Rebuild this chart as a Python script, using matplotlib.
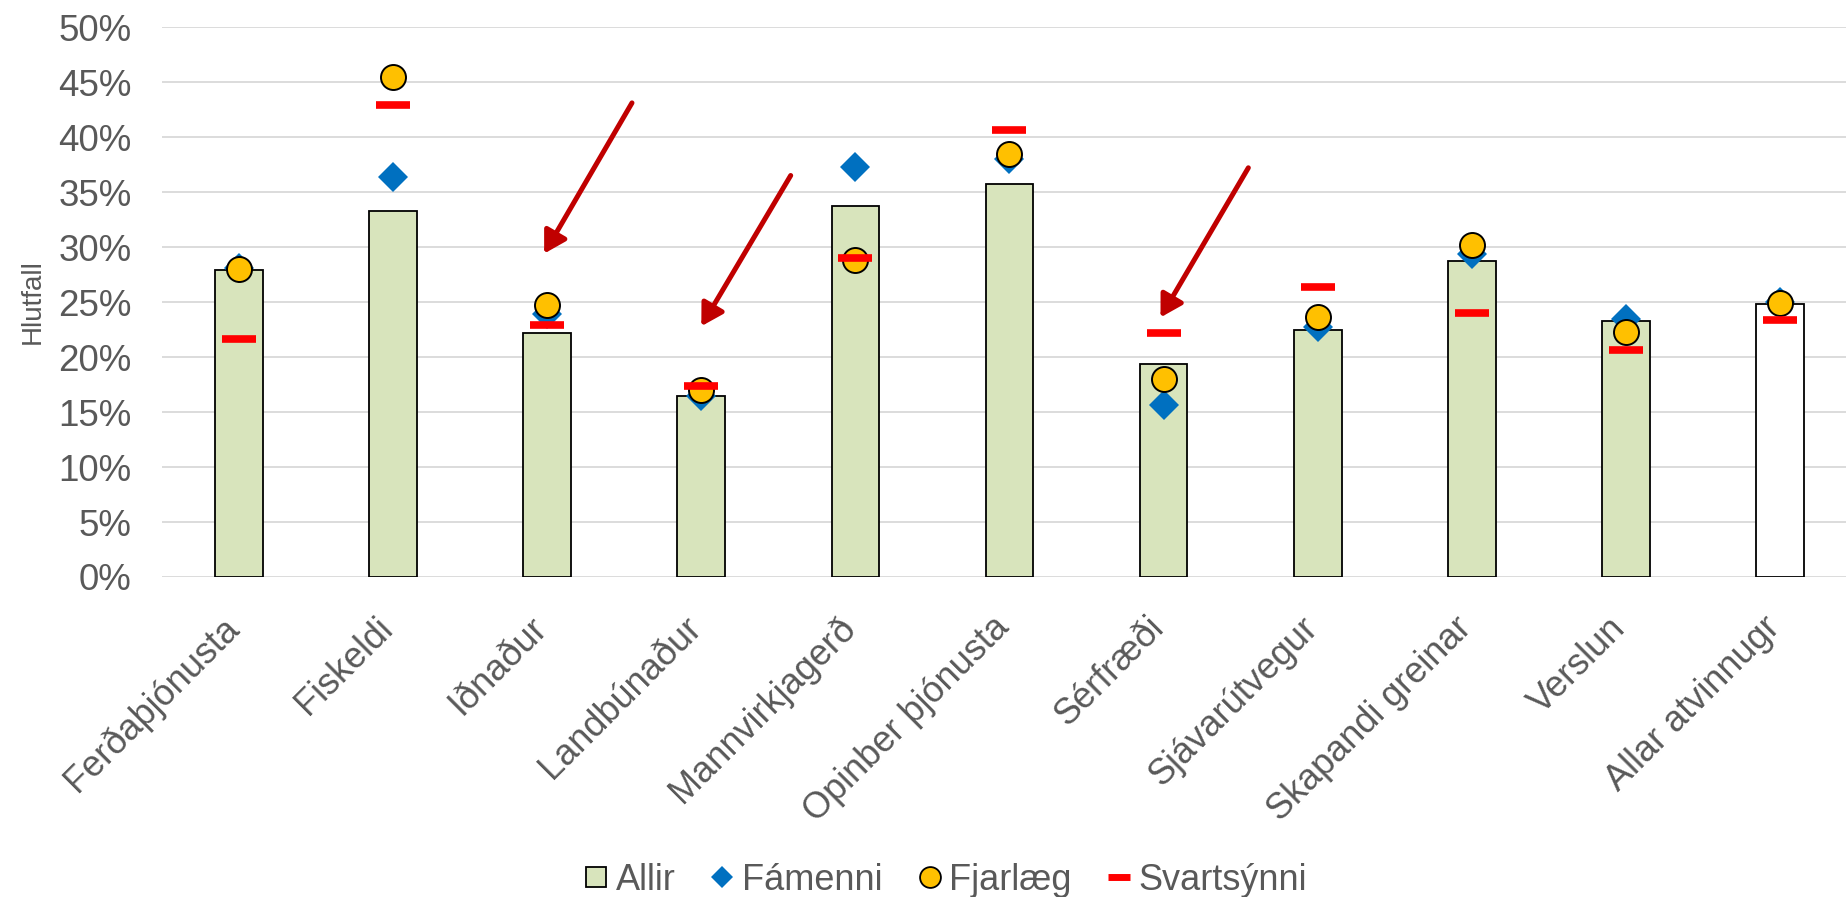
import matplotlib
matplotlib.use("Agg")
import matplotlib.pyplot as plt
from matplotlib.lines import Line2D
from matplotlib.ticker import PercentFormatter, MultipleLocator
import matplotlib.transforms as mtransforms
import numpy as np

plt.rcParams['font.family'] = ['Liberation Sans', 'DejaVu Sans']

categories = ["Ferðaþjónusta", "Fiskeldi", "Iðnaður", "Landbúnaður", "Mannvirkjagerð",
              "Opinber þjónusta", "Sérfræði", "Sjávarútvegur", "Skapandi greinar",
              "Verslun", "Allar atvinnugr"]
allir = [27.9, 33.3, 22.2, 16.5, 33.7, 35.7, 19.4, 22.5, 28.7, 23.3, 24.8]
famenni = [28.1, 36.4, 23.9, 16.5, 37.3, 38.0, 15.6, 22.7, 29.4, 23.5, 25.0]
fjarlaeg = [28.0, 45.5, 24.7, 17.0, 28.8, 38.5, 18.0, 23.6, 30.2, 22.3, 24.9]
svartsynni = [21.6, 42.9, 22.9, 17.4, 29.0, 40.6, 22.2, 26.4, 24.0, 20.6, 23.4]
series_labels = ["Allir", "Fámenni", "Fjarlæg", "Svartsýnni"]
# annotation arrows: (x_tail, y_tail, x_head, y_head) in category / percent units
arrows = [(2.55, 43.1, 1.98, 29.4), (3.58, 36.5, 3.0, 22.8), (6.55, 37.2, 5.98, 23.6)]

TXT = "#595959"
W, H = 1846, 897
fig = plt.figure(figsize=(W / 100, H / 100), dpi=100)
ax = fig.add_axes([162 / W, (H - 577) / H, 1695 / W, 550 / H])

x = np.arange(len(categories))
bar_colors = ["#D8E4BC"] * (len(categories) - 1) + ["#FFFFFF"]
ax.bar(x, allir, width=0.31, color=bar_colors, edgecolor="black", linewidth=1.3, zorder=2)
ax.plot(x, famenni, linestyle="none", marker="D", markersize=15, color="#0070C0",
        markeredgewidth=0, zorder=3)
ax.plot(x, fjarlaeg, linestyle="none", marker="o", markersize=18, markerfacecolor="#FFC000",
        markeredgecolor="black", markeredgewidth=1.4, zorder=4)
ax.plot(x, svartsynni, linestyle="none", marker="_", markersize=24, markeredgewidth=5.5,
        color="#FF0000", zorder=5)

for (xt, yt, xh, yh) in arrows:
    ax.annotate("", xy=(xh, yh), xytext=(xt, yt),
                arrowprops=dict(arrowstyle="-|>,head_length=0.65,head_width=0.38",
                                mutation_scale=20, color="#C00000", lw=3.6,
                                shrinkA=0, shrinkB=0), zorder=6)

ax.set_xlim(-0.5, len(categories) - 0.5)
ax.set_ylim(0, 50)
ax.yaxis.set_major_locator(MultipleLocator(5))
ax.yaxis.set_major_formatter(PercentFormatter(xmax=100, decimals=0))
ax.grid(axis="y", color="#D9D9D9", linewidth=1.3, zorder=0)
ax.set_axisbelow(True)
for s in ax.spines.values():
    s.set_visible(False)
ax.tick_params(axis="y", length=0, pad=22, labelsize=26.5, labelcolor=TXT)
ax.tick_params(axis="x", length=0, pad=24, labelsize=26, labelcolor=TXT)
ax.set_xticks(x)
ax.set_xticklabels(categories, rotation=45, ha="right", va="top")
offset = mtransforms.ScaledTranslation(7 / 100, 0, fig.dpi_scale_trans)
for lab in ax.get_xticklabels():
    lab.set_transform(lab.get_transform() + offset)

fig.text(33 / W, 1 - 302 / H, "Hlutfall", rotation=90, ha="center", va="center",
         fontsize=20, color=TXT)

handles = [
    Line2D([], [], linestyle="none", marker="s", markersize=14, markerfacecolor="#D8E4BC",
           markeredgecolor="black", markeredgewidth=1.3),
    Line2D([], [], linestyle="none", marker="D", markersize=11, color="#0070C0", markeredgewidth=0),
    Line2D([], [], linestyle="none", marker="o", markersize=15, markerfacecolor="#FFC000",
           markeredgecolor="black", markeredgewidth=1.3),
    Line2D([], [], linestyle="none", marker="_", markersize=16, markeredgewidth=5, color="#FF0000"),
]
fig.legend(handles, series_labels, loc="center", bbox_to_anchor=(946 / W, 1 - 880 / H),
           ncol=4, frameon=False, fontsize=26, labelcolor=TXT, handlelength=0.6,
           handletextpad=0.25, columnspacing=1.0, borderaxespad=0, borderpad=0)

fig.savefig("out.png", dpi=100)
